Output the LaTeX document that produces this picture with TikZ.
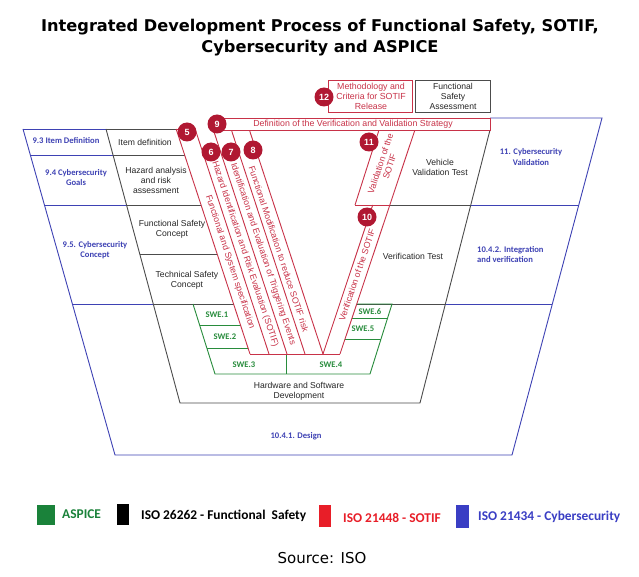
\documentclass[tikz,border=0pt]{standalone}
\usepackage{fontspec}
\setmainfont{Liberation Sans}
\newfontfamily\calfont{Carlito}
\newfontfamily\djfont{DejaVu Sans}
\definecolor{sred}{RGB}{200,50,72}
\definecolor{cred}{RGB}{176,24,50}
\definecolor{cblue}{RGB}{62,66,180}
\definecolor{cgreen}{RGB}{40,140,60}
\definecolor{lgreen}{RGB}{26,130,58}
\definecolor{lred}{RGB}{232,30,40}
\definecolor{lblue}{RGB}{58,62,196}
\tikzset{
  blk/.style={draw=black!70, line width=0.9pt},
  blu/.style={draw=cblue, line width=0.9pt},
  sot/.style={draw=sred, line width=0.9pt},
  grn/.style={draw=cgreen, line width=0.9pt},
  dtext/.style={font=\fontsize{8.6}{10.4}\selectfont, align=center, text=black!85, inner sep=0},
  btext/.style={font=\calfont\bfseries\fontsize{8.6}{10.4}\selectfont, text=cblue, align=center, inner sep=0},
  rtext/.style={font=\fontsize{8.8}{10}\selectfont, text=sred, align=center, inner sep=0},
  num/.style={circle, fill=cred, minimum size=19pt, inner sep=0, text=white, font=\bfseries\fontsize{9}{9}\selectfont},
  swe/.style={font=\calfont\bfseries\fontsize{8.6}{10}\selectfont, text=cgreen, inner sep=0},
  legtext/.style={font=\calfont\bfseries\fontsize{13.4}{15}\selectfont, anchor=west, inner sep=0},
}
\begin{document}
\begin{tikzpicture}[x=1pt,y=-1pt]
\useasboundingbox (0,0) rectangle (639,577);
\fill[white] (0,0) rectangle (639,577);

% title
\node[font=\djfont\bfseries\fontsize{16.2}{21}\selectfont, align=center] (title) at (320,38)
  {Integrated Development Process of Functional Safety, SOTIF,\\Cybersecurity and ASPICE};

% ---- blue (cybersecurity) frame
\draw[blu] (23,129) -- (115,455) -- (512,455) -- (602,118) -- (490,118);
\draw[blu] (23,129) -- (106,129);
\draw[blu] (30.3,155) -- (113,155);
\draw[blu] (44.4,205) -- (126.5,205);
\draw[blu] (72.4,304) -- (153.3,304);
\draw[blu] (470.8,205) -- (578.8,205);
\draw[blu] (445.4,304) -- (552.3,304);

% ---- black (functional safety) frame
\draw[blk] (106,129) -- (180,403) -- (420,403) -- (490,130);
\draw[blk] (106,129) -- (176.1,129);
\draw[blk] (113,155) -- (184.7,155);
\draw[blk] (126.5,205) -- (201.2,205);
\draw[blk] (139.8,254) -- (217.3,254);
\draw[blk] (153.3,304) -- (233.8,304);
\draw[blk] (389.7,205) -- (470.8,205);
\draw[blk] (356.5,304) -- (445.4,304);

% ---- green (ASPICE)
\draw[grn] (193,304) -- (215,374) -- (370,374) -- (392,304) -- (356.5,304);
\draw[grn] (199.7,325) -- (240.8,325);
\draw[grn] (207,348) -- (248.4,348);
\draw[grn] (286,354) -- (286,374);
\draw[grn] (351.7,318) -- (387.3,318);
\draw[grn] (344.7,339) -- (380.6,339);

% ---- red (SOTIF) strips
\draw[sot] (176.1,129) -- (195.1,129);
\draw[sot] (176.1,129) -- (250,354);
\draw[sot] (195.1,129) -- (269,354);
\draw[sot] (213.4,130) -- (287,354);
\draw[sot] (231.4,130) -- (305,354);
\draw[sot] (249.4,130) -- (323,354);
\draw[sot] (250,354) -- (340,354);
\draw[sot] (323,354) -- (372.7,205);
\draw[sot] (340,354) -- (414.9,130);
\draw[sot] (355,205) -- (389.7,205);
\draw[sot] (355,205) -- (379,130);
\draw[sot, fill=white] (216,118) rectangle (490,130);
\draw[sot] (328,80) rectangle (412,112);
\draw[blk] (415,80) rectangle (490,112);

% ---- texts in the frames
\node[btext] (t93) at (66,141) {9.3 Item Definition};
\node[btext] (t94) at (76,177.5) {9.4 Cybersecurity\\Goals};
\node[btext] (t95) at (95,250) {9.5. Cybersecurity\\Concept};
\node[btext] (t11) at (531,157) {11. Cybersecurity\\Validation};
\node[btext, align=left, anchor=west] (t1042) at (477,254.5) {10.4.2. Integration\\and verification};
\node[btext] (t1041) at (296,436) {10.4.1. Design};

\node[dtext] (itemdef) at (145,142) {Item definition};
\node[dtext] (hara) at (156,180.5) {Hazard analysis\\and risk\\assessment};
\node[dtext] (fsc) at (172,229.5) {Functional Safety\\Concept};
\node[dtext] (tsc) at (187,280.5) {Technical Safety\\Concept};
\node[dtext] (vvt) at (440,167.5) {Vehicle\\Validation Test};
\node[dtext] (vt) at (413,256) {Verification Test};
\node[dtext] (hsd) at (299,391) {Hardware and Software\\Development};
\node[dtext] (fsa) at (453,96.5) {Functional\\Safety\\Assessment};
\node[rtext] (meth) at (371,96.5) {Methodology and\\Criteria for SOTIF\\Release};
\node[rtext] (vvs) at (353,124.5) {Definition of the Verification and Validation Strategy};

% strip labels
\node[rtext, rotate=-71.7] (s5) at (230,262) {Functional and System specification};
\node[rtext, rotate=-71.7] (s6) at (245,254) {Hazard Identification and Risk Evaluation (SOTIF)};
\node[rtext, rotate=-71.7] (s7) at (263,254) {Identification and Evaluation of Triggering Events};
\node[rtext, rotate=-71.7] (s8) at (278.8,249) {Functional Modification to reduce SOTIF risk};
\node[rtext, rotate=71.4] (s10) at (357,275) {Verification of the SOTIF};
\node[rtext, rotate=71.4, font=\fontsize{8.8}{9.6}\selectfont] (s11) at (385,165) {Validation of the\\SOTIF};

% SWE labels
\node[swe] (swe1) at (217,315) {SWE.1};
\node[swe] (swe2) at (225,337) {SWE.2};
\node[swe] (swe3) at (244,365) {SWE.3};
\node[swe] (swe4) at (331,365) {SWE.4};
\node[swe] (swe5) at (363,329) {SWE.5};
\node[swe] (swe6) at (370,311.5) {SWE.6};

% numbered circles
\node[num] (c12) at (324,97) {12};
\node[num] (c9) at (217,124) {9};
\node[num] (c5) at (187,132) {5};
\node[num] (c6) at (211,152) {6};
\node[num] (c7) at (231,152) {7};
\node[num] (c8) at (253,150) {8};
\node[num] (c11) at (369,142) {11};
\node[num] (c10) at (367,217) {10};

% legend
\fill[lgreen] (37,505) rectangle (55,525);
\node[legtext, text=lgreen] (lg1) at (62,514) {ASPICE};
\fill[black] (117,504) rectangle (129,525);
\node[legtext, text=black] (lg2) at (141,516) {ISO 26262 - Functional\ \ Safety};
\fill[lred] (319,505) rectangle (331,527);
\node[legtext, text=lred] (lg3) at (343,518) {ISO 21448 - SOTIF};
\fill[lblue] (456,505) rectangle (469,528);
\node[legtext, text=lblue] (lg4) at (478,517) {ISO 21434 - Cybersecurity};

\node[font=\djfont\fontsize{15}{17}\selectfont] (src) at (322,558) {Source: ISO};
\end{tikzpicture}
\end{document}
